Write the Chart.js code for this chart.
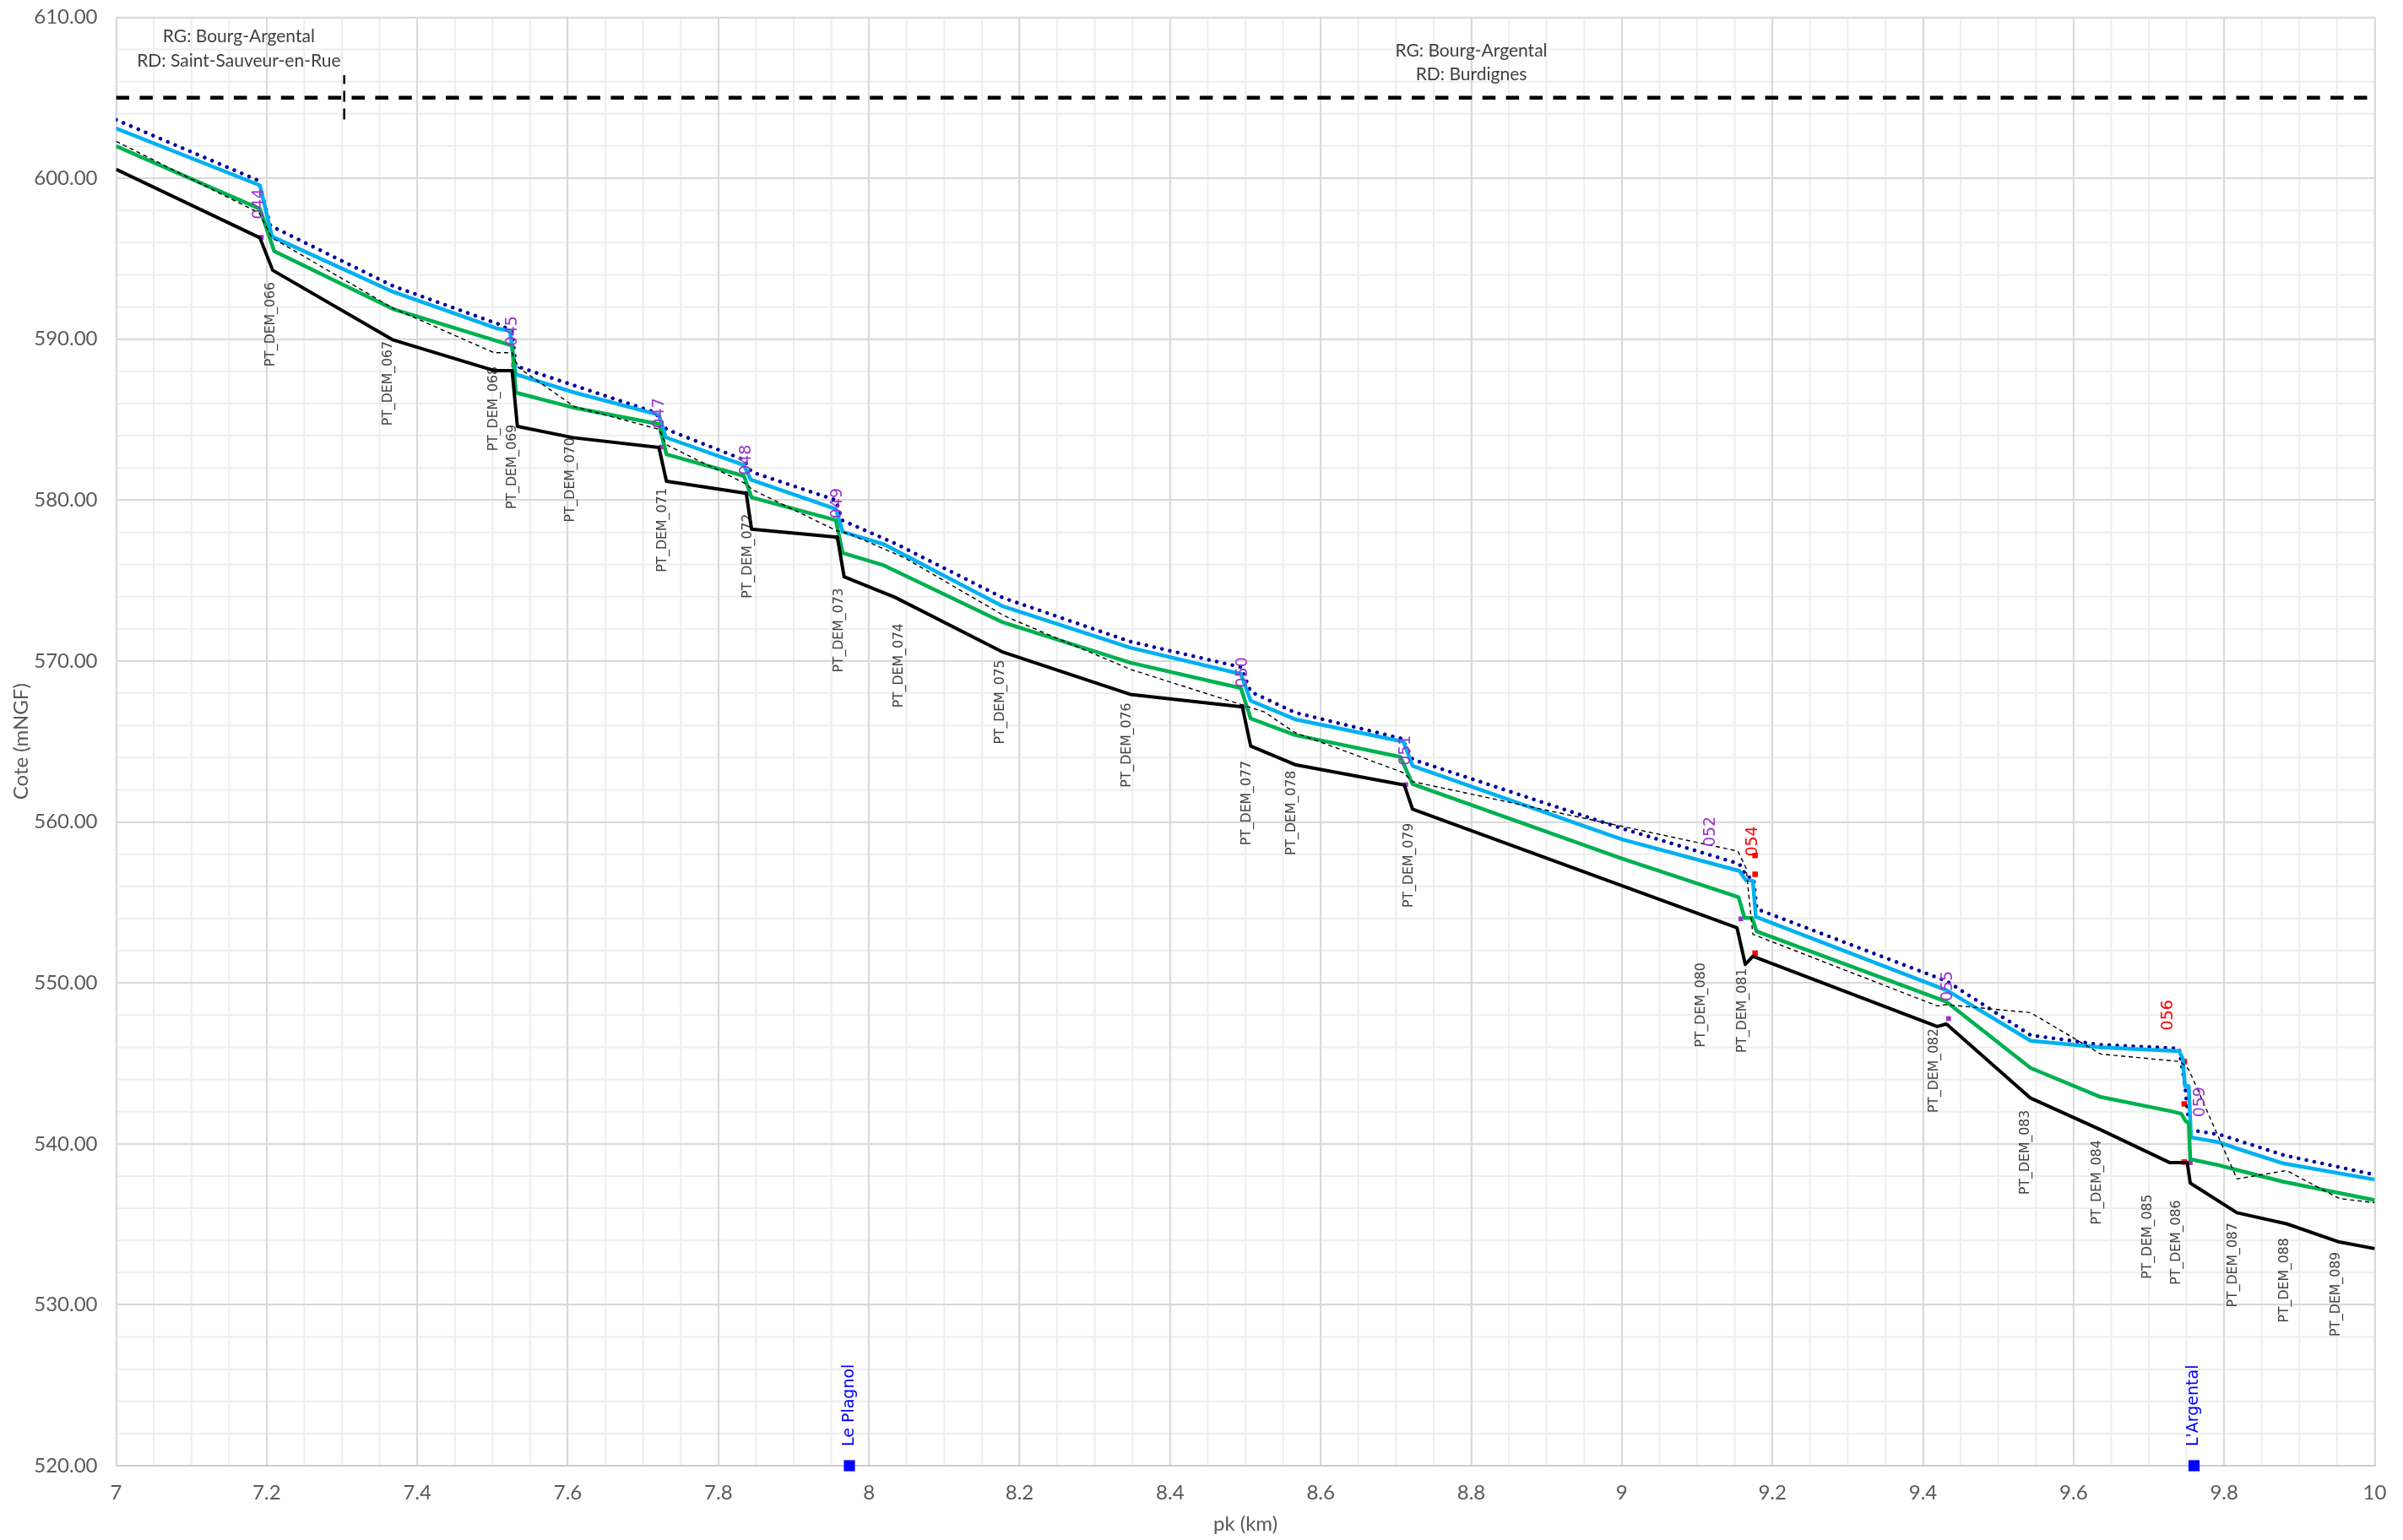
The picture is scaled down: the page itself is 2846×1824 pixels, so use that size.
<!DOCTYPE html>
<html>
<head>
<meta charset="utf-8">
<title>Profil en long</title>
<script src="https://cdn.jsdelivr.net/npm/chart.js@4.4.1/dist/chart.umd.min.js"></script>
<style>
  html, body { margin: 0; padding: 0; background: #ffffff; overflow: hidden; }
  canvas { display: block; }
</style>
</head>
<body>
<canvas id="profil" width="2846" height="1824" style="width:2846px;height:1824px"></canvas>
<script>
// ---- Fond du lit (ligne noire) ----
const fondPk = [7.0, 7.191, 7.208, 7.368, 7.502, 7.526, 7.533, 7.607, 7.721, 7.731, 7.837, 7.844, 7.958, 7.967, 8.035, 8.178, 8.347, 8.496, 8.507, 8.566, 8.711, 8.722, 9.153, 9.164, 9.174, 9.419, 9.431, 9.543, 9.636, 9.728, 9.751, 9.755, 9.817, 9.883, 9.953, 10.0];
const fondZ  = [600.56, 596.3, 594.28, 589.95, 588.05, 588.05, 584.58, 583.88, 583.27, 581.17, 580.42, 578.2, 577.7, 575.24, 573.95, 570.55, 567.93, 567.15, 564.72, 563.56, 562.3, 560.8, 553.42, 551.15, 551.65, 547.29, 547.45, 542.84, 540.87, 538.83, 538.83, 537.56, 535.72, 535.03, 533.9, 533.49];

// ---- Ligne d'eau verte ----
const eauVertePk = [7.0, 7.191, 7.21, 7.368, 7.526, 7.531, 7.61, 7.721, 7.731, 7.834, 7.844, 7.956, 7.965, 8.02, 8.178, 8.347, 8.494, 8.507, 8.566, 8.706, 8.722, 9.0, 9.155, 9.163, 9.173, 9.179, 9.431, 9.543, 9.636, 9.732, 9.743, 9.749, 9.753, 9.755, 9.794, 9.815, 9.879, 10.0];
const eauVerteZ  = [602.0, 598.1, 595.47, 591.87, 589.6, 586.68, 585.72, 584.73, 582.84, 581.5, 580.17, 578.75, 576.72, 575.94, 572.4, 569.9, 568.32, 566.43, 565.4, 564.04, 562.36, 557.73, 555.33, 554.04, 554.04, 553.2, 548.83, 544.71, 542.91, 542.0, 541.87, 541.4, 541.3, 539.04, 538.66, 538.4, 537.64, 536.5];

// ---- Ligne d'eau bleu clair ----
const eauBleuePk = [7.0, 7.191, 7.207, 7.368, 7.507, 7.523, 7.531, 7.609, 7.721, 7.73, 7.834, 7.843, 7.956, 7.965, 8.02, 8.178, 8.347, 8.494, 8.507, 8.566, 8.71, 8.722, 9.0, 9.156, 9.165, 9.174, 9.178, 9.432, 9.543, 9.636, 9.74, 9.745, 9.748, 9.753, 9.756, 9.794, 9.815, 9.879, 10.0];
const eauBleueZ  = [603.1, 599.56, 596.38, 592.94, 590.65, 590.52, 587.81, 586.68, 585.3, 583.9, 582.17, 581.27, 579.45, 578.03, 577.25, 573.4, 570.83, 569.2, 567.53, 566.38, 564.99, 563.49, 558.92, 556.96, 556.38, 556.35, 554.11, 549.53, 546.4, 545.99, 545.76, 545.32, 543.58, 543.58, 540.4, 540.09, 539.74, 538.78, 537.78];

// ---- Ligne d'eau pointillée bleu foncé ----
const eauPointPk = [7.0, 7.189, 7.205, 7.368, 7.512, 7.526, 7.531, 7.61, 7.716, 7.731, 7.834, 7.844, 7.956, 7.965, 8.035, 8.178, 8.347, 8.494, 8.507, 8.566, 8.708, 8.722, 9.0, 9.156, 9.166, 9.175, 9.179, 9.432, 9.543, 9.636, 9.74, 9.748, 9.754, 9.794, 9.879, 10.0];
const eauPointZ  = [603.63, 599.86, 597.05, 593.3, 590.87, 590.44, 588.34, 587.1, 585.45, 584.4, 582.5, 581.75, 580.0, 578.73, 577.3, 573.93, 571.21, 569.62, 568.09, 566.8, 565.18, 563.89, 559.6, 557.4, 556.6, 556.5, 554.6, 550.1, 546.75, 546.16, 545.93, 543.6, 540.87, 540.58, 539.3, 538.08];

// ---- Berge (tireté fin) ----
const bergePk = [7.0, 7.19, 7.207, 7.368, 7.502, 7.526, 7.534, 7.609, 7.721, 7.731, 7.837, 7.845, 7.957, 7.974, 8.048, 8.18, 8.348, 8.525, 8.566, 8.71, 8.722, 9.154, 9.165, 9.174, 9.419, 9.431, 9.543, 9.636, 9.742, 9.753, 9.817, 9.883, 9.953, 10.0];
const bergeZ  = [602.3, 597.84, 596.3, 591.92, 589.16, 589.16, 588.25, 585.8, 584.4, 583.44, 581.0, 580.65, 578.1, 577.9, 576.4, 572.8, 569.47, 566.84, 565.55, 563.06, 562.51, 558.19, 557.13, 553.02, 548.57, 548.65, 548.15, 545.58, 545.11, 544.62, 537.82, 538.34, 536.6, 536.34];

// ---- Limite communale (tireté épais) et séparation ----
const limitePk = [7, 10];
const limiteZ  = [605, 605];
const separationPk = [7.303, 7.303];
const separationZ  = [603.65, 606.4];

// ---- Ouvrages (repères violets) ----
const ouvrageNoms = ['044', '045', '047', '048', '049', '050', '051', '052', '055', '059'];
const ouvragePk   = [7.193, 7.528, 7.724, 7.838, 7.958, 8.498, 8.713, 9.158, 9.434, 9.755];
const ouvrageZ    = [596.33, 588.4, 583.3, 580.42, 577.68, 567.18, 562.32, 553.98, 547.78, 538.83];
const ouvrageEtiqPk = [7.19, 7.527, 7.722, 7.837, 7.958, 8.497, 8.713, 9.118, 9.433, 9.768];
const ouvrageEtiqZ  = [598.4, 590.5, 585.4, 582.5, 579.8, 569.3, 564.45, 559.4, 549.8, 542.6];

// ---- Seuils (repères rouges) ----
const seuilPk = [9.177, 9.177, 9.177, 9.747, 9.747, 9.747];
const seuilZ  = [557.92, 556.75, 551.85, 545.11, 542.48, 538.87];
const seuilNoms   = ['054', '056'];
const seuilEtiqPk = [9.174, 9.726];
const seuilEtiqZ  = [558.8, 548.0];

// ---- Profils en travers ----
const profilNoms = ['PT_DEM_066', 'PT_DEM_067', 'PT_DEM_068', 'PT_DEM_069', 'PT_DEM_070', 'PT_DEM_071', 'PT_DEM_072', 'PT_DEM_073', 'PT_DEM_074', 'PT_DEM_075', 'PT_DEM_076', 'PT_DEM_077', 'PT_DEM_078', 'PT_DEM_079', 'PT_DEM_080', 'PT_DEM_081', 'PT_DEM_082', 'PT_DEM_083', 'PT_DEM_084', 'PT_DEM_085', 'PT_DEM_086', 'PT_DEM_087', 'PT_DEM_088', 'PT_DEM_089'];
const profilPk   = [7.206, 7.362, 7.502, 7.527, 7.604, 7.726, 7.839, 7.961, 8.04, 8.175, 8.343, 8.502, 8.562, 8.717, 9.105, 9.16, 9.415, 9.536, 9.631, 9.699, 9.737, 9.812, 9.88, 9.949];
const profilEtiqZ = [593.55, 589.88, 588.3, 584.7, 583.88, 580.77, 579.15, 574.54, 572.35, 570.08, 567.4, 563.8, 563.19, 559.94, 551.25, 550.91, 547.18, 542.1, 540.23, 536.86, 536.5, 535.1, 534.15, 533.28];

// ---- Confluences ----
const lieuNoms = ['Le Plagnol', "L'Argental"];
const lieuPk   = [7.974, 9.76];
const lieuZ    = [520, 520];

// ---- Communes riveraines ----
const communeTextes = ['RG: Bourg-Argental', 'RD: Saint-Sauveur-en-Rue', 'RG: Bourg-Argental', 'RD: Burdignes'];
const communePk = [7.163, 7.163, 8.8, 8.8];
const communeZ  = [608.83, 607.26, 607.94, 606.47];

// ---- Axes ----
const axeX = { min: 7, max: 10, pas: 0.2, pasSecondaire: 0.05 };
const axeY = { min: 520, max: 610, pas: 10, pasSecondaire: 2 };

const pts = (xs, ys) => xs.map((x, i) => ({ x: x, y: ys[i] }));

const TICK_FONT = 'Lato, "Open Sans", sans-serif';
const LABEL_FONT = '"DejaVu Sans", Verdana, sans-serif';

// Grille secondaire, tracée sous la grille principale
const grilleSecondaire = {
  id: 'grilleSecondaire',
  beforeDraw(chart) {
    const { ctx, chartArea: a, scales } = chart;
    ctx.save();
    ctx.fillStyle = '#ffffff';
    ctx.fillRect(0, 0, chart.width, chart.height);
    ctx.strokeStyle = '#eeeeee';
    ctx.lineWidth = 2;
    ctx.beginPath();
    const nx = Math.round((axeX.max - axeX.min) / axeX.pasSecondaire);
    for (let i = 0; i <= nx; i++) {
      const px = scales.x.getPixelForValue(axeX.min + i * axeX.pasSecondaire);
      ctx.moveTo(px, a.top); ctx.lineTo(px, a.bottom);
    }
    const ny = Math.round((axeY.max - axeY.min) / axeY.pasSecondaire);
    for (let i = 0; i <= ny; i++) {
      const py = scales.y.getPixelForValue(axeY.min + i * axeY.pasSecondaire);
      ctx.moveTo(a.left, py); ctx.lineTo(a.right, py);
    }
    ctx.stroke();
    ctx.restore();
  }
};

function texteVertical(ctx, txt, x, y, align) {
  ctx.save();
  ctx.translate(x, y);
  ctx.rotate(-Math.PI / 2);
  ctx.textAlign = align;
  ctx.textBaseline = 'middle';
  ctx.fillText(txt, 0, 0);
  ctx.restore();
}

// Étiquettes textuelles
const etiquettes = {
  id: 'etiquettes',
  beforeDatasetsDraw(chart) {
    const { ctx, scales: { x, y } } = chart;
    ctx.save();
    // noms des profils, sous le fond
    ctx.fillStyle = '#404040';
    ctx.font = '15.7px ' + LABEL_FONT;
    profilNoms.forEach((n, i) => {
      texteVertical(ctx, n, x.getPixelForValue(profilPk[i]), y.getPixelForValue(profilEtiqZ[i]), 'right');
    });
    // communes riveraines
    ctx.fillStyle = '#404040';
    ctx.font = '21px ' + TICK_FONT;
    ctx.textAlign = 'center';
    ctx.textBaseline = 'middle';
    communeTextes.forEach((t, i) => {
      ctx.fillText(t, x.getPixelForValue(communePk[i]), y.getPixelForValue(communeZ[i]));
    });
    ctx.restore();
  },
  afterDatasetsDraw(chart) {
    const { ctx, scales: { x, y } } = chart;
    ctx.save();
    ctx.font = '19px ' + LABEL_FONT;
    ctx.fillStyle = '#9933CC';
    ouvrageNoms.forEach((n, i) => {
      texteVertical(ctx, n, x.getPixelForValue(ouvrageEtiqPk[i]), y.getPixelForValue(ouvrageEtiqZ[i]), 'center');
    });
    ctx.fillStyle = '#FF0000';
    seuilNoms.forEach((n, i) => {
      texteVertical(ctx, n, x.getPixelForValue(seuilEtiqPk[i]), y.getPixelForValue(seuilEtiqZ[i]), 'center');
    });
    ctx.fillStyle = '#0000FF';
    ctx.font = '19px ' + LABEL_FONT;
    lieuNoms.forEach((n, i) => {
      texteVertical(ctx, n, x.getPixelForValue(lieuPk[i]), y.getPixelForValue(lieuZ[i]) - 23, 'left');
    });
    ctx.restore();
  }
};

function ligne(data, color, width, dash, cap) {
  return {
    data: data, showLine: true, borderColor: color, backgroundColor: color,
    borderWidth: width, borderDash: dash || [], borderCapStyle: cap || 'butt',
    borderJoinStyle: 'round', pointRadius: 0, pointHoverRadius: 0, tension: 0
  };
}
function reperes(data, color, radius, clip) {
  return {
    data: data, showLine: false, pointStyle: 'rect', pointRadius: radius,
    pointHoverRadius: radius, pointBackgroundColor: color, pointBorderWidth: 0,
    backgroundColor: color, borderColor: color, clip: clip
  };
}

function dessiner() {
  new Chart(document.getElementById('profil'), {
    type: 'scatter',
    data: {
      datasets: [
        ligne(pts(limitePk, limiteZ), '#000000', 4.5, [15.5, 12.4]),
        ligne(pts(separationPk, separationZ), '#000000', 2.5, [13, 8]),
        ligne(pts(bergePk, bergeZ), '#000000', 1.4, [5, 4]),
        ligne(pts(fondPk, fondZ), '#000000', 4),
        ligne(pts(eauVertePk, eauVerteZ), '#00B050', 4.5),
        ligne(pts(eauBleuePk, eauBleueZ), '#00B0F0', 4.5),
        ligne(pts(eauPointPk, eauPointZ), '#00009C', 4.5, [0.01, 9.5], 'round'),
        reperes(pts(ouvragePk, ouvrageZ), '#9933CC', 4, false),
        reperes(pts(seuilPk, seuilZ), '#FF0000', 4.6, false),
        reperes(pts(lieuPk, lieuZ), '#0000FF', 9.3, false)
      ]
    },
    plugins: [grilleSecondaire, etiquettes],
    options: {
      responsive: false,
      animation: false,
      devicePixelRatio: 1,
      events: [],
      layout: { autoPadding: false, padding: { top: 20.5, right: 33.5, left: 0, bottom: 0 } },
      plugins: { legend: { display: false }, tooltip: { enabled: false } },
      scales: {
        x: {
          type: 'linear', position: 'bottom', min: axeX.min, max: axeX.max,
          ticks: {
            stepSize: axeX.pas, padding: 0, color: '#595959', autoSkip: false, maxRotation: 0,
            font: { family: TICK_FONT, size: 24 },
            callback: v => String(Math.round(v * 10) / 10)
          },
          grid: { color: '#d9d9d9', lineWidth: 2, drawTicks: true, tickLength: 18, tickColor: 'rgba(0,0,0,0)' },
          border: { color: '#cccccc', width: 2 },
          title: { display: true, text: 'pk (km)', color: '#595959', font: { family: TICK_FONT, size: 24 }, padding: { top: 0, bottom: 4 } },
          afterFit(s) { s.height = 88; }
        },
        y: {
          type: 'linear', position: 'left', min: axeY.min, max: axeY.max,
          ticks: {
            stepSize: axeY.pas, padding: 0, color: '#595959',
            font: { family: TICK_FONT, size: 24 },
            callback: v => Number(v).toFixed(2)
          },
          grid: { color: '#d9d9d9', lineWidth: 2, drawTicks: true, tickLength: 22, tickColor: 'rgba(0,0,0,0)' },
          border: { color: '#d9d9d9', width: 2 },
          title: { display: true, text: 'Cote (mNGF)', color: '#595959', font: { family: TICK_FONT, size: 24 }, padding: { top: 11, bottom: 0 } },
          afterFit(s) { s.width = 137.5; }
        }
      }
    }
  });
}

const polices = ['24px Lato', '21px Lato', '16px "DejaVu Sans"', '19px "DejaVu Sans"'];
if (document.fonts && document.fonts.load) {
  Promise.all(polices.map(f => document.fonts.load(f))).then(dessiner, dessiner);
} else {
  dessiner();
}
</script>
</body>
</html>
